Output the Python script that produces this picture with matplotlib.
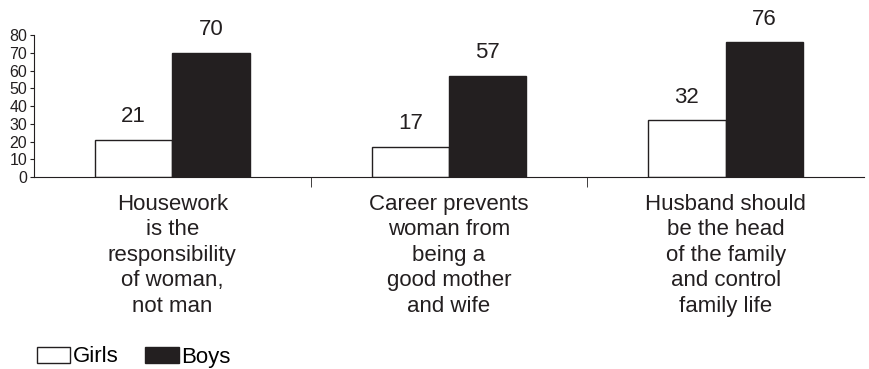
import matplotlib.pyplot as plt
from matplotlib.patches import Patch
import numpy as np

plt.rcParams['font.family'] = ['Liberation Sans', 'DejaVu Sans']

categories = ["Housework\nis the\nresponsibility\nof woman,\nnot man",
              "Career prevents\nwoman from\nbeing a\ngood mother\nand wife",
              "Husband should\nbe the head\nof the family\nand control\nfamily life"]
girls = [21, 17, 32]
boys = [70, 57, 76]

ink = '#231f20'
fig = plt.figure(figsize=(8.7, 3.69), dpi=100)
ax = fig.add_axes([0.0391, 0.5203, 0.954, 0.3848])

x = np.arange(len(categories))
w = 0.28
b1 = ax.bar(x - w / 2, girls, w, color='white', edgecolor=ink, linewidth=1)
b2 = ax.bar(x + w / 2, boys, w, color=ink, edgecolor=ink, linewidth=1)

for bars, vals in ((b1, girls), (b2, boys)):
    for r, v in zip(bars, vals):
        ax.annotate(str(v), (r.get_x() + r.get_width() / 2, v), xytext=(0, 9),
                    textcoords='offset points', ha='center', va='bottom',
                    fontsize=16, color=ink)

ax.set_xlim(-0.5, len(categories) - 0.5)
ax.set_ylim(0, 80)
ax.set_yticks(range(0, 81, 10))
ax.tick_params(axis='y', labelsize=11.5, length=3, pad=2, colors=ink)
ax.set_xticks(x)
ax.set_xticklabels(categories, fontsize=16, linespacing=1.28, color=ink)
ax.tick_params(axis='x', which='major', length=0, pad=12)
ax.set_xticks([0.5, 1.5], minor=True)
ax.tick_params(axis='x', which='minor', length=7, color=ink)
for s in ['top', 'right']:
    ax.spines[s].set_visible(False)
for s in ['left', 'bottom']:
    ax.spines[s].set_color(ink)

handles = [Patch(facecolor='white', edgecolor=ink, label='Girls'),
           Patch(facecolor=ink, edgecolor=ink, label='Boys')]
fig.legend(handles=handles, loc='center left', bbox_to_anchor=(37 / 870, 1 - 357 / 369),
           ncol=2, frameon=False, fontsize=16, handlelength=1.5, handleheight=0.72,
           handletextpad=0.12, columnspacing=1.2, borderpad=0, borderaxespad=0)

fig.savefig('out.png', dpi=100)
